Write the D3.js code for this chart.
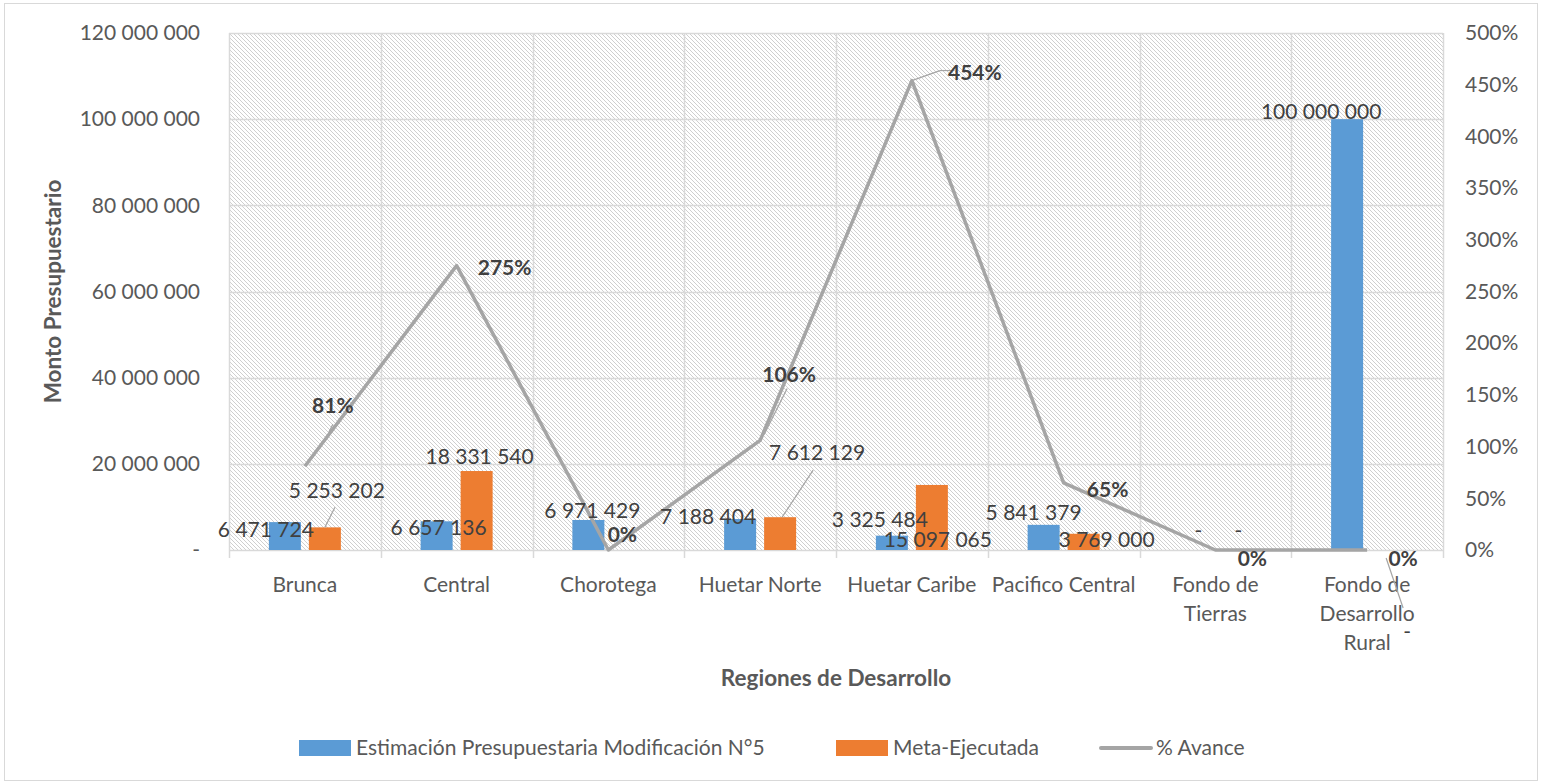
<!DOCTYPE html>
<html>
<head>
<meta charset="utf-8">
<script src="https://cdn.jsdelivr.net/npm/d3@7"></script>
<style>
	body { margin: 0; background: #fff; }
	svg { font-family: Lato, 'Open Sans', sans-serif; }
</style>
</head>
<body>
<svg width="1543" height="784"></svg>
<script>
// data
const categories = ['Brunca', 'Central', 'Chorotega', 'Huetar Norte', 'Huetar Caribe', 'Pacifico Central', 'Fondo de Tierras', 'Fondo de Desarrollo Rural'];
const categoryLines = [['Brunca'], ['Central'], ['Chorotega'], ['Huetar Norte'], ['Huetar Caribe'], ['Pacifico Central'], ['Fondo de', 'Tierras'], ['Fondo de', 'Desarrollo', 'Rural']];
const estimacion = [6471724, 6657136, 6971429, 7188404, 3325484, 5841379, 0, 100000000];
const ejecutada = [5253202, 18331540, 0, 7612129, 15097065, 3769000, 0, 0];
const avance = [0.81, 2.75, 0, 1.06, 4.54, 0.65, 0, 0];
const leftTicks = [0, 20000000, 40000000, 60000000, 80000000, 100000000, 120000000];
const rightTicks = [0, 0.5, 1, 1.5, 2, 2.5, 3, 3.5, 4, 4.5, 5];
const seriesNames = ['Estimación Presupuestaria Modificación N°5', 'Meta-Ejecutada', '% Avance'];

// label nudges (px from the mark), like the hand-moved labels in the original
const estShift = [[-19, 8], [2, 6], [4, -9], [-32, -2], [-12, -16], [-10, -12], [3, -19], [-26, -8]];
const ejeShift = [[12, -37], [3, -14], null, [37, -65], [6, 55], [23, 6], [3, -19], [20, 82]];
const avShift = [[28, -61], [48, 2], [14, -15], [29, -66], [63, -8], [44, 7], [37, 9], [36, 9]];

const svg = d3.select('svg');
const plot = { left: 229, right: 1443, top: 33, bottom: 550 };
const textColor = '#595959';
const blue = '#5b9bd5', orange = '#ed7d31', grey = '#a5a5a5';

const x = d3.scaleBand().domain(categories).range([plot.left, plot.right]);
const y = d3.scaleLinear().domain([0, 120000000]).range([plot.bottom, plot.top]);
const y2 = d3.scaleLinear().domain([0, 5]).range([plot.bottom, plot.top]);
const cx = c => x(c) + x.bandwidth() / 2;
const barW = 32, gap = 8;
const fmtNum = v => v === 0 ? '-' : d3.format(',')(v).replace(/,/g, ' ');

// outer frame
svg.append('rect')
	.attr('x', 4.5).attr('y', 3.5)
	.attr('width', 1533).attr('height', 777)
	.attr('fill', '#fff')
	.attr('stroke', '#d9d9d9');

// hatch pattern
const pat = svg.append('defs').append('pattern')
	.attr('id', 'hatch')
	.attr('patternUnits', 'userSpaceOnUse')
	.attr('width', 4).attr('height', 4);
pat.append('rect').attr('width', 4).attr('height', 4).attr('fill', '#fff');
pat.selectAll('rect.px')
	.data([0, 1, 2, 3])
	.enter()
	.append('rect')
	.attr('class', 'px')
	.attr('x', d => d).attr('y', d => d)
	.attr('width', 1).attr('height', 1)
	.attr('fill', '#cfcfcf');

svg.append('rect')
	.attr('x', plot.left).attr('y', plot.top)
	.attr('width', plot.right - plot.left).attr('height', plot.bottom - plot.top)
	.attr('fill', 'url(#hatch)');

// gridlines
svg.append('g')
	.attr('id', 'hgrid')
	.selectAll('line')
	.data(leftTicks)
	.enter()
	.append('line')
	.attr('x1', plot.left).attr('x2', plot.right)
	.attr('y1', d => Math.round(y(d)) + 0.5).attr('y2', d => Math.round(y(d)) + 0.5)
	.attr('stroke', '#d9d9d9').attr('stroke-width', 1.5);

const bounds = categories.map(c => x(c)).concat([plot.right]);
svg.append('g')
	.attr('id', 'vgrid')
	.selectAll('line')
	.data(bounds)
	.enter()
	.append('line')
	.attr('x1', d => Math.round(d) + 0.5).attr('x2', d => Math.round(d) + 0.5)
	.attr('y1', plot.top).attr('y2', plot.bottom + 8)
	.attr('stroke', '#d9d9d9').attr('stroke-width', 1.5);

// axes
const leftAxis = d3.axisLeft(y).tickValues(leftTicks).tickFormat(fmtNum).tickSize(0).tickPadding(29);
svg.append('g')
	.attr('class', 'axis')
	.attr('transform', `translate(${plot.left}, 0)`)
	.call(leftAxis);

const rightAxis = d3.axisRight(y2).tickValues(rightTicks).tickFormat(d3.format('.0%')).tickSize(0).tickPadding(22);
svg.append('g')
	.attr('class', 'axis')
	.attr('transform', `translate(${plot.right}, 0)`)
	.call(rightAxis);

svg.selectAll('.axis .domain').remove();
svg.selectAll('.axis text')
	.attr('font-family', 'Lato, sans-serif')
	.attr('font-size', 21)
	.attr('fill', textColor);

// category labels
svg.append('g')
	.attr('id', 'cats')
	.selectAll('text')
	.data(categories)
	.enter()
	.append('text')
	.attr('x', d => cx(d))
	.attr('y', plot.bottom + 42)
	.attr('text-anchor', 'middle')
	.attr('font-size', 21)
	.attr('fill', textColor)
	.each(function(d, i) {
		d3.select(this).selectAll('tspan')
			.data(categoryLines[i])
			.enter()
			.append('tspan')
			.attr('x', cx(d))
			.attr('dy', (t, j) => j === 0 ? 0 : 29)
			.text(t => t);
	});

// axis titles
svg.append('text')
	.attr('transform', `translate(61, ${(plot.top + plot.bottom) / 2}) rotate(-90)`)
	.attr('text-anchor', 'middle')
	.attr('font-size', 22.5)
	.attr('font-weight', 'bold')
	.attr('fill', textColor)
	.text('Monto Presupuestario');

svg.append('text')
	.attr('x', (plot.left + plot.right) / 2)
	.attr('y', 686)
	.attr('text-anchor', 'middle')
	.attr('font-size', 22.5)
	.attr('font-weight', 'bold')
	.attr('fill', textColor)
	.text('Regiones de Desarrollo');

// bars
svg.append('g')
	.attr('id', 'est')
	.selectAll('rect')
	.data(estimacion)
	.enter()
	.append('rect')
	.attr('x', (d, i) => cx(categories[i]) - gap / 2 - barW)
	.attr('y', d => y(d))
	.attr('width', barW)
	.attr('height', d => plot.bottom - y(d))
	.attr('fill', blue);

svg.append('g')
	.attr('id', 'eje')
	.selectAll('rect')
	.data(ejecutada)
	.enter()
	.append('rect')
	.attr('x', (d, i) => cx(categories[i]) + gap / 2)
	.attr('y', d => y(d))
	.attr('width', barW)
	.attr('height', d => plot.bottom - y(d))
	.attr('fill', orange);

// line
const lineGen = d3.line()
	.x((d, i) => cx(categories[i]))
	.y(d => y2(d));
svg.append('path')
	.datum(avance)
	.attr('d', lineGen)
	.attr('fill', 'none')
	.attr('stroke', grey)
	.attr('stroke-width', 3.5)
	.attr('stroke-linejoin', 'round');

// leader lines
const leaders = [
	{ from: [cx(categories[0]) + 20 + 10, y(ejecutada[0]) - 20], to: [cx(categories[0]) + 20, y(ejecutada[0])] },
	{ from: [cx(categories[3]) + 20 + 33, y(ejecutada[3]) - 47], to: [cx(categories[3]) + 22, y(ejecutada[3])] },
	{ from: [cx(categories[7]) + 20 + 16, y(0) + 58], to: [cx(categories[7]) + 19, y(0) + 8] },
	{ from: [cx(categories[4]) + 28, y2(avance[4]) - 10], to: [cx(categories[4]), y2(avance[4])] },
	{ from: [cx(categories[4]) + 28, y2(avance[4]) - 10], to: [cx(categories[4]) + 42, y2(avance[4]) - 10] },
	{ from: [cx(categories[3]) + 27, y2(avance[3]) - 52], to: [cx(categories[3]) + 4, y2(avance[3]) - 6] },
	{ from: [cx(categories[0]) + 28, y2(avance[0]) - 42], to: [cx(categories[0]) + 24, y2(avance[0]) - 34] }
];
svg.append('g')
	.attr('id', 'leaders')
	.selectAll('line')
	.data(leaders)
	.enter()
	.append('line')
	.attr('x1', d => d.from[0]).attr('y1', d => d.from[1])
	.attr('x2', d => d.to[0]).attr('y2', d => d.to[1])
	.attr('stroke', grey).attr('stroke-width', 1.2);

// data labels
svg.append('g')
	.attr('id', 'estLabels')
	.selectAll('text')
	.data(estimacion)
	.enter()
	.append('text')
	.attr('x', (d, i) => cx(categories[i]) - gap / 2 - barW / 2 + estShift[i][0])
	.attr('y', (d, i) => y(d) + estShift[i][1])
	.attr('dy', '0.35em')
	.attr('text-anchor', 'middle')
	.attr('font-size', 21)
	.attr('fill', '#404040')
	.text(fmtNum);

svg.append('g')
	.attr('id', 'ejeLabels')
	.selectAll('text')
	.data(ejecutada.map((v, i) => ({ v, i })).filter(d => ejeShift[d.i]))
	.enter()
	.append('text')
	.attr('x', d => cx(categories[d.i]) + gap / 2 + barW / 2 + ejeShift[d.i][0])
	.attr('y', d => y(d.v) + ejeShift[d.i][1])
	.attr('dy', '0.35em')
	.attr('text-anchor', 'middle')
	.attr('font-size', 21)
	.attr('fill', '#404040')
	.text(d => fmtNum(d.v));

svg.append('g')
	.attr('id', 'avLabels')
	.selectAll('text')
	.data(avance)
	.enter()
	.append('text')
	.attr('x', (d, i) => cx(categories[i]) + avShift[i][0])
	.attr('y', (d, i) => y2(d) + avShift[i][1])
	.attr('dy', '0.35em')
	.attr('text-anchor', 'middle')
	.attr('font-size', 21)
	.attr('font-weight', 'bold')
	.attr('fill', '#404040')
	.text(d => d3.format('.0%')(d));

// legend
const legend = [
	{ name: seriesNames[0], type: 'rect', color: blue, x: 299 },
	{ name: seriesNames[1], type: 'rect', color: orange, x: 836 },
	{ name: seriesNames[2], type: 'line', color: grey, x: 1099 }
];
const lg = svg.append('g')
	.attr('id', 'legend')
	.selectAll('g')
	.data(legend)
	.enter()
	.append('g')
	.attr('transform', d => `translate(${d.x}, 748)`);
lg.filter(d => d.type === 'rect')
	.append('rect')
	.attr('x', 0).attr('y', -8)
	.attr('width', 52).attr('height', 16)
	.attr('fill', d => d.color);
lg.filter(d => d.type === 'line')
	.append('line')
	.attr('x1', 2).attr('x2', 52)
	.attr('stroke', d => d.color)
	.attr('stroke-width', 4)
	.attr('stroke-linecap', 'round');
lg.append('text')
	.attr('x', 57)
	.attr('dy', '0.35em')
	.attr('font-size', 21)
	.attr('fill', textColor)
	.text(d => d.name);
</script>
</body>
</html>
